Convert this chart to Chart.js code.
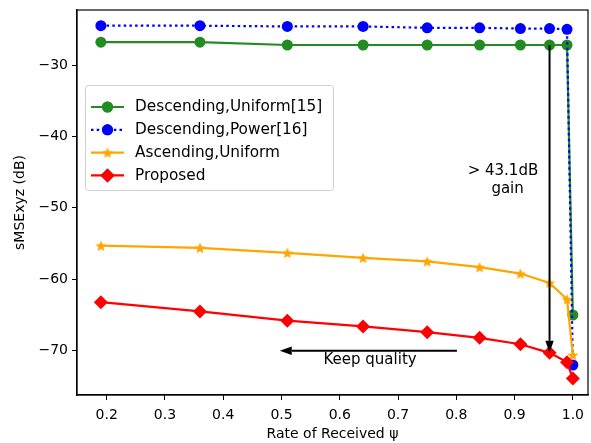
<!DOCTYPE html>
<html>
<head>
<meta charset="utf-8">
<script src="https://cdn.jsdelivr.net/npm/chart.js@4/dist/chart.umd.min.js"></script>
<style>
  html, body { margin: 0; padding: 0; background: #fff; }
  #wrap { width: 591px; height: 443px; overflow: hidden; }
</style>
</head>
<body>
<div id="wrap"><canvas id="c" width="595" height="443"></canvas></div>
<script>
// ---- data ----
const rates = [0.19, 0.36, 0.51, 0.64, 0.75, 0.84, 0.91, 0.96, 0.99, 1.0];
const descUniform = [-26.8, -26.8, -27.2, -27.2, -27.2, -27.2, -27.2, -27.2, -27.2, -65.0];
const descPower   = [-24.5, -24.5, -24.6, -24.6, -24.8, -24.8, -24.9, -24.9, -25.0, -72.0];
const ascUniform  = [-55.3, -55.6, -56.3, -57.0, -57.5, -58.3, -59.2, -60.5, -62.8, -70.6];
const proposed    = [-63.2, -64.5, -65.8, -66.6, -67.4, -68.2, -69.1, -70.3, -71.6, -73.9];
const xTicks = [0.2, 0.3, 0.4, 0.5, 0.6, 0.7, 0.8, 0.9, 1.0];
const yTicks = [-70, -60, -50, -40, -30];

const FONT = "'DejaVu Sans', sans-serif";

// filled 5 point star for the orange series
function starImage(color, r) {
    const s = Math.ceil(r * 2 + 2);
    const cv = document.createElement("canvas");
    cv.width = s; cv.height = s;
    const g = cv.getContext("2d");
    g.fillStyle = color;
    g.beginPath();
    for (let i = 0; i < 10; i++) {
        const rad = i % 2 === 0 ? r : r * 0.45;
        const a = -Math.PI / 2 + i * Math.PI / 5;
        const px = s / 2 + rad * Math.cos(a), py = s / 2 + rad * Math.sin(a) + r * 0.1;
        if (i === 0) g.moveTo(px, py); else g.lineTo(px, py);
    }
    g.closePath();
    g.fill();
    return cv;
}
const star = starImage("#ffa500", 5.8);

const toPts = arr => arr.map((v, i) => ({ x: rates[i], y: v }));

const series = [
    { label: "Descending,Uniform[15]", data: descUniform, color: "#228b22", style: "circle", r: 5.5, dash: [], order: 4 },
    { label: "Descending,Power[16]", data: descPower, color: "#0000ff", style: "circle", r: 5.5, dash: [2.5, 3.2], order: 3 },
    { label: "Ascending,Uniform", data: ascUniform, color: "#ffa500", style: star, r: 5, dash: [], order: 2 },
    { label: "Proposed", data: proposed, color: "#ff0000", style: "rectRot", r: 7, dash: [], order: 1 }
];

function drawArrow(ctx, x1, y1, x2, y2) {
    const ang = Math.atan2(y2 - y1, x2 - x1);
    const hl = 12, hw = 4.2;
    ctx.save();
    ctx.strokeStyle = "#000";
    ctx.fillStyle = "#000";
    ctx.lineWidth = 2;
    ctx.beginPath();
    ctx.moveTo(x1, y1);
    ctx.lineTo(x2 - hl * Math.cos(ang), y2 - hl * Math.sin(ang));
    ctx.stroke();
    ctx.beginPath();
    ctx.moveTo(x2, y2);
    ctx.lineTo(x2 - hl * Math.cos(ang) + hw * Math.sin(ang), y2 - hl * Math.sin(ang) - hw * Math.cos(ang));
    ctx.lineTo(x2 - hl * Math.cos(ang) - hw * Math.sin(ang), y2 - hl * Math.sin(ang) + hw * Math.cos(ang));
    ctx.closePath();
    ctx.fill();
    ctx.restore();
}

const extras = {
    id: "extras",
    afterDatasetsDraw(chart) {
        const ctx = chart.ctx;
        const xs = chart.scales.x, ys = chart.scales.y;
        const a = chart.chartArea;

        // full axes frame
        ctx.save();
        ctx.strokeStyle = "#000";
        ctx.lineWidth = 1.2;
        ctx.strokeRect(a.left, a.top, a.right - a.left, a.bottom - a.top);
        ctx.restore();

        // gain arrow
        drawArrow(ctx, xs.getPixelForValue(0.96), ys.getPixelForValue(-27.2),
                       xs.getPixelForValue(0.96), ys.getPixelForValue(-70.3));
        // keep quality arrow
        drawArrow(ctx, xs.getPixelForValue(0.801), ys.getPixelForValue(-70),
                       xs.getPixelForValue(0.497), ys.getPixelForValue(-70));
        ctx.save();
        ctx.fillStyle = "#000";
        ctx.font = "15px " + FONT;
        ctx.textAlign = "center";
        ctx.textBaseline = "middle";
        ctx.fillText("> 43.1dB", xs.getPixelForValue(0.88), ys.getPixelForValue(-44.85));
        ctx.fillText("gain", xs.getPixelForValue(0.888), ys.getPixelForValue(-47.4));
        ctx.fillText("Keep quality", xs.getPixelForValue(0.652), ys.getPixelForValue(-71.3));
        ctx.restore();

        // legend box inside the plot
        const bx = a.left + 8, by = a.top + 75;
        const bw = 248, bh = 105;
        ctx.save();
        ctx.fillStyle = "rgba(255,255,255,0.8)";
        ctx.strokeStyle = "#d0d0d0";
        ctx.lineWidth = 1;
        ctx.beginPath();
        ctx.roundRect(bx + 0.5, by + 0.5, bw, bh, 3);
        ctx.fill();
        ctx.stroke();
        series.forEach((s, i) => {
            const cy = by + 22 + i * 22.8;
            ctx.strokeStyle = s.color;
            ctx.lineWidth = 2.2;
            ctx.setLineDash(s.dash);
            ctx.beginPath();
            ctx.moveTo(bx + 6, cy);
            ctx.lineTo(bx + 39, cy);
            ctx.stroke();
            ctx.setLineDash([]);
            ctx.fillStyle = s.color;
            ctx.beginPath();
            Chart.helpers.drawPoint(ctx, { pointStyle: s.style, radius: s.r, borderWidth: 0, rotation: 0 }, bx + 22.5, cy);
            if (typeof s.style === "string") ctx.fill();
            ctx.fillStyle = "#000";
            ctx.font = "15.3px " + FONT;
            ctx.textAlign = "left";
            ctx.textBaseline = "middle";
            ctx.fillText(s.label, bx + 50, cy + 0.5);
        });
        ctx.restore();
    }
};

new Chart(document.getElementById("c"), {
    type: "line",
    data: {
        datasets: series.map(s => ({
            label: s.label,
            data: toPts(s.data),
            borderColor: s.color,
            backgroundColor: s.color,
            borderWidth: 2.2,
            borderDash: s.dash,
            pointStyle: s.style,
            pointRadius: s.r,
            pointHoverRadius: s.r,
            pointBorderWidth: 0,
            tension: 0,
            order: s.order
        }))
    },
    options: {
        responsive: false,
        animation: false,
        events: [],
        layout: { padding: { left: 0, top: 10, right: 3, bottom: 0 } },
        plugins: { legend: { display: false }, tooltip: { enabled: false } },
        scales: {
            x: {
                type: "linear",
                min: 0.149, max: 1.026,
                afterBuildTicks: sc => { sc.ticks = xTicks.map(v => ({ value: v })); },
                afterFit: sc => { sc.height = 48; sc.paddingLeft = 0; sc.paddingRight = 0; },
                ticks: {
                    color: "#000", font: { family: FONT, size: 14 }, padding: 7,
                    maxRotation: 0, autoSkip: false,
                    callback: v => v.toFixed(1)
                },
                grid: { drawOnChartArea: false, drawTicks: true, tickLength: 5, color: "#000", tickWidth: 1 },
                border: { color: "#000", width: 1.2 },
                title: { display: true, text: "Rate of Received ψ", color: "#000", font: { family: FONT, size: 14 }, padding: { top: 2, bottom: 0 } }
            },
            y: {
                min: -76.2, max: -22.3,
                afterBuildTicks: sc => { sc.ticks = yTicks.map(v => ({ value: v })); },
                afterFit: sc => { sc.width = 77; sc.paddingTop = 0; sc.paddingBottom = 0; },
                ticks: {
                    color: "#000", font: { family: FONT, size: 14 }, padding: 4,
                    autoSkip: false,
                    callback: v => "\u2212" + Math.abs(v)
                },
                grid: { drawOnChartArea: false, drawTicks: true, tickLength: 5, color: "#000", tickWidth: 1 },
                border: { color: "#000", width: 1.2 },
                title: { display: true, text: "sMSExyz (dB)", color: "#000", font: { family: FONT, size: 14 }, padding: { top: 12, bottom: 4 } }
            }
        }
    },
    plugins: [extras]
});
</script>
</body>
</html>
